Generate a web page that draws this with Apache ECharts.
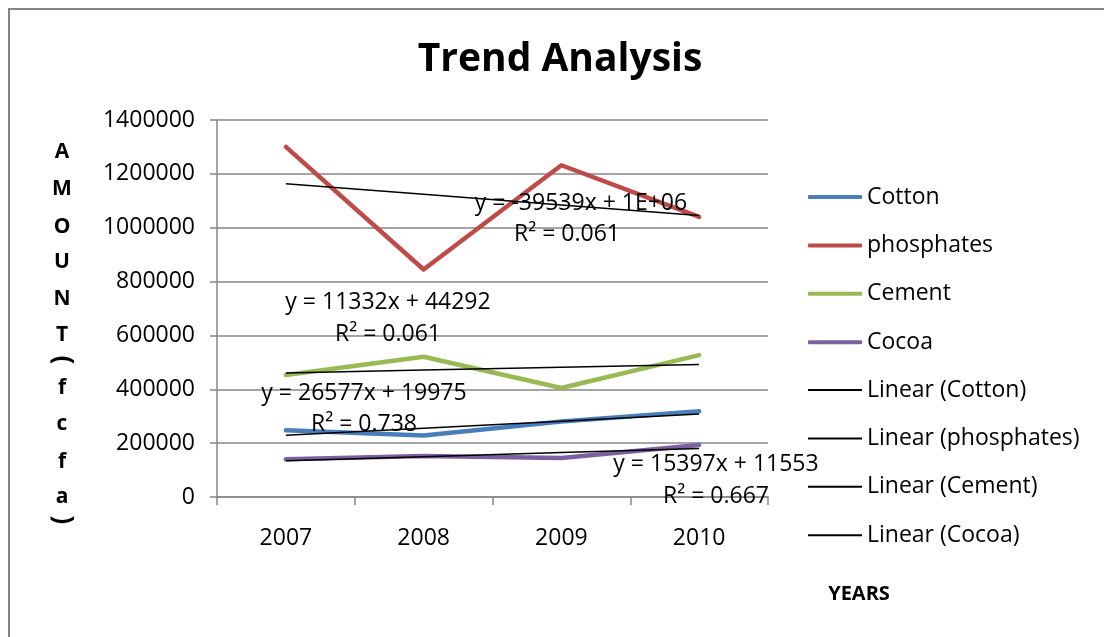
<!DOCTYPE html>
<html>
<head>
<meta charset="utf-8">
<script src="https://cdn.jsdelivr.net/npm/echarts@6/dist/echarts.min.js"></script>
<style>
  html, body { margin: 0; padding: 0; background: #fff; }
  #chart { width: 1104px; height: 637px; }
</style>
</head>
<body>
<div id="chart"></div>
<script>
// Export amounts per year (fcfa)
const years = ['2007', '2008', '2009', '2010'];
const cotton = [248000, 228000, 280000, 318000];
const phosphates = [1300000, 845000, 1232000, 1040000];
const cement = [453000, 521000, 405000, 527000];
const cocoa = [140000, 152000, 145000, 193000];

// Value axis range
const yMin = 0;
const yMax = 1400000;
const yStep = 200000;

// Trendline equation labels, as printed on the chart
const eqPhosphates = ['y = -39539x + 1E+06', 'R² = 0.061'];
const eqCement = ['y = 11332x + 44292', 'R² = 0.061'];
const eqCotton = ['y = 26577x + 19975', 'R² = 0.738'];
const eqCocoa = ['y = 15397x + 11553', 'R² = 0.667'];

const yAxisTitle = ['A', 'M', 'O', 'U', 'N', 'T', '(', 'f', 'c', 'f', 'a', ')'];

// Least-squares straight line through a series (x = 1..n)
function linearFit(vals) {
  const n = vals.length;
  let sx = 0, sy = 0, sxy = 0, sxx = 0;
  vals.forEach((v, i) => { const x = i + 1; sx += x; sy += v; sxy += x * v; sxx += x * x; });
  const b = (n * sxy - sx * sy) / (n * sxx - sx * sx);
  const a = (sy - b * sx) / n;
  return vals.map((_, i) => a + b * (i + 1));
}

const FONT = '"Open Sans", "Noto Sans", sans-serif';
const colors = { Cotton: '#4A7EBB', phosphates: '#BE4B48', Cement: '#98B954', Cocoa: '#7D60A0' };

const mainSeries = [
  ['Cotton', cotton], ['phosphates', phosphates], ['Cement', cement], ['Cocoa', cocoa]
].map(([name, data]) => ({
  name, type: 'line', data, showSymbol: false, symbol: 'none', z: 2,
  lineStyle: { width: 4.5, color: colors[name], cap: 'round', join: 'round' },
  itemStyle: { color: colors[name] }
}));

const trendSeries = [
  ['Linear (Cotton)', cotton], ['Linear (phosphates)', phosphates],
  ['Linear (Cement)', cement], ['Linear (Cocoa)', cocoa]
].map(([name, data]) => ({
  name, type: 'line', data: linearFit(data), showSymbol: false, symbol: 'none', z: 3,
  lineStyle: { width: 1.5, color: '#000' }, itemStyle: { color: '#000' }
}));

function eqText(lines, pos) {
  return lines.map((t, i) => ({
    type: 'text', z: 10,
    x: pos[i][0], y: pos[i][1],
    style: { text: t, font: '23px ' + FONT, fill: '#000', textAlign: 'center', textVerticalAlign: 'middle' }
  }));
}

// Vertical, letter-by-letter axis title; brackets turned sideways
const axisTitleLetters = yAxisTitle.map((ch, i) => {
  const ys = [152, 189, 227, 262, 299, 335, 360, 388, 424, 462, 497, 520];
  const paren = ch === '(' || ch === ')';
  return {
    type: 'text', z: 10, x: 62, y: ys[i], rotation: paren ? -Math.PI / 2 : 0,
    style: { text: ch, font: 'bold ' + (paren ? 26 : 21) + 'px ' + FONT, fill: '#000', textAlign: 'center', textVerticalAlign: 'middle' }
  };
});

const chart = echarts.init(document.getElementById('chart'));
chart.setOption({
  backgroundColor: '#fff',
  animation: false,
  title: {
    text: 'Trend Analysis', left: 555, top: 35, textAlign: 'center',
    textStyle: { fontFamily: FONT, fontWeight: 'bold', fontSize: 39, color: '#000' }
  },
  grid: { left: 217, right: 336, top: 120, bottom: 140, containLabel: false },
  legend: [
    {
      data: mainSeries.map(s => s.name), orient: 'vertical', left: 803, top: 180,
      itemWidth: 54, itemHeight: 4, itemGap: 24.4, icon: 'roundRect', selectedMode: false,
      textStyle: { fontFamily: FONT, fontSize: 23, color: '#000', lineHeight: 24 }
    },
    {
      data: trendSeries.map(s => s.name), orient: 'vertical', left: 803, top: 373,
      itemWidth: 54, itemHeight: 2, itemGap: 24.4, icon: 'rect', selectedMode: false,
      textStyle: { fontFamily: FONT, fontSize: 23, color: '#000', lineHeight: 24 }
    }
  ],
  xAxis: {
    type: 'category', data: years, boundaryGap: true,
    axisLine: { lineStyle: { color: '#868686', width: 1.5 } },
    axisTick: { show: true, length: 8, lineStyle: { color: '#868686', width: 1.5 } },
    axisLabel: { margin: 30, fontFamily: FONT, fontSize: 23, color: '#000' },
    splitLine: { show: false }
  },
  yAxis: {
    type: 'value', min: yMin, max: yMax, interval: yStep,
    axisLine: { show: true, lineStyle: { color: '#868686', width: 1.5 } },
    axisTick: { show: true, length: 7, lineStyle: { color: '#868686', width: 1.5 } },
    axisLabel: { margin: 22, fontFamily: FONT, fontSize: 23, color: '#000', formatter: v => String(v) },
    splitLine: { lineStyle: { color: '#868686', width: 1.5 } }
  },
  series: mainSeries.concat(trendSeries),
  graphic: [
    {
      type: 'rect', z: 0, silent: true,
      shape: { x: 9, y: 9, width: 1200, height: 700 },
      style: { fill: 'none', stroke: '#868686', lineWidth: 2 }
    },
    {
      type: 'text', z: 10, x: 859, y: 594,
      style: { text: 'YEARS', font: 'bold 20px ' + FONT, fill: '#000', textAlign: 'center', textVerticalAlign: 'middle' }
    }
  ]
    .concat(axisTitleLetters)
    .concat(eqText(eqPhosphates, [[581, 203], [567, 234]]))
    .concat(eqText(eqCement, [[388, 302], [388, 334]]))
    .concat(eqText(eqCotton, [[364, 393], [364, 424]]))
    .concat(eqText(eqCocoa, [[716, 464], [716, 496]]))
});
</script>
</body>
</html>
